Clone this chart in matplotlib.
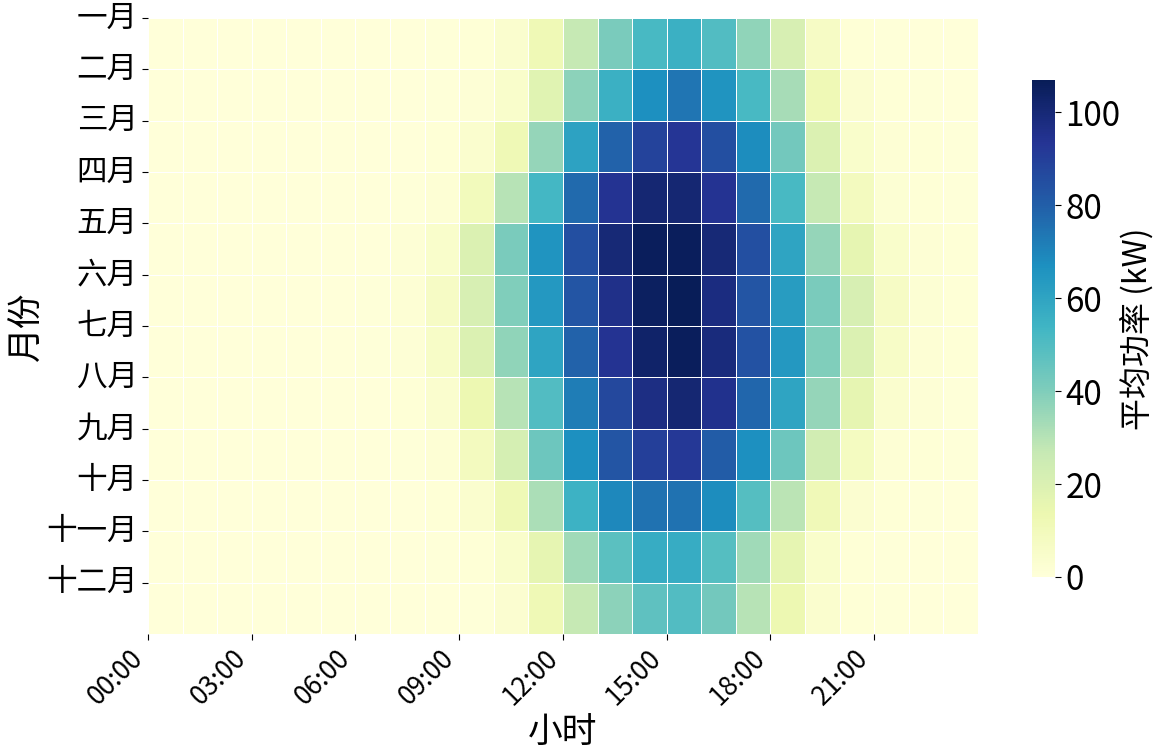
import numpy as np
import matplotlib
matplotlib.use("Agg")
import matplotlib.pyplot as plt
import seaborn as sns

plt.rcParams['font.family'] = ['Noto Sans CJK SC', 'DejaVu Sans']
plt.rcParams['axes.unicode_minus'] = False

# 月份和小时标签
months = ["一月", "二月", "三月", "四月", "五月", "六月",
          "七月", "八月", "九月", "十月", "十一月", "十二月"]
hour_ticks = [0, 3, 6, 9, 12, 15, 18, 21]
hour_labels = ["00:00", "03:00", "06:00", "09:00", "12:00", "15:00", "18:00", "21:00"]

# 每月各小时平均功率 (kW), 00:00 - 23:00
jan = [0, 0, 0, 0, 0, 0, 0, 0, 0.5, 1, 4, 12, 27, 41, 52, 56, 50, 37, 21, 7, 1, 0.5, 0, 0]
feb = [0, 0, 0, 0, 0, 0, 0, 0, 0.5, 1.5, 5, 18, 38, 56, 67, 74, 66, 52, 33, 12, 3, 1, 0.5, 0]
mar = [0, 0, 0, 0, 0, 0, 0, 0, 1, 4, 12, 36, 61, 79, 89, 93, 85, 68, 43, 20, 5, 2, 1, 0.5]
apr = [0, 0, 0, 0, 0, 0, 0, 0.5, 2, 10, 30, 53, 77, 94, 101, 101, 94, 77, 52, 27, 9, 2.5, 1, 0.5]
may = [0, 0, 0, 0, 0, 0, 0.3, 1.5, 5, 20, 41, 66, 85, 100, 106, 106, 100, 85, 60, 36, 16, 5, 2, 1]
jun = [0, 0, 0, 0, 0, 0, 0.5, 2, 7, 21, 40, 64, 83, 96, 105, 107, 98, 83, 63, 41, 21, 7, 2.5, 1]
jul = [0, 0, 0, 0, 0, 0, 0.5, 1.5, 6, 20, 37, 60, 79, 94, 103, 106, 99, 84, 64, 40, 20, 6, 2, 1]
aug = [0, 0, 0, 0, 0, 0, 0, 1, 4, 13, 30, 50, 72, 87, 97, 101, 95, 78, 60, 36, 16, 4, 1.5, 0.5]
sep = [0, 0, 0, 0, 0, 0, 0, 0.5, 2, 9, 22, 44, 67, 83, 90, 92, 81, 67, 44, 23, 8, 2, 1, 0.5]
oct_ = [0, 0, 0, 0, 0, 0, 0, 0, 1, 4, 12, 32, 55, 69, 75, 75, 68, 49, 29, 11, 3, 1, 0.5, 0]
nov = [0, 0, 0, 0, 0, 0, 0, 0, 0.5, 1, 5, 16, 34, 48, 57, 57, 49, 34, 16, 5, 1, 0.5, 0, 0]
dec = [0, 0, 0, 0, 0, 0, 0, 0, 0.3, 0.5, 3, 12, 27, 38, 47, 50, 43, 30, 13, 4, 1, 0.5, 0, 0]

data = np.array([jan, feb, mar, apr, may, jun, jul, aug, sep, oct_, nov, dec])

fig = plt.figure(figsize=(11.56, 7.56), dpi=100)
ax = fig.add_axes([0.128, 0.1614, 0.718, 0.8148])
cax = fig.add_axes([0.8927, 0.2368, 0.0199, 0.6574])

sns.heatmap(data, ax=ax, cbar_ax=cax, cmap="YlGnBu",
            linewidths=0.5, linecolor="white")

# 刻度
ax.set_xticks(hour_ticks)
ax.set_xticklabels(hour_labels, rotation=45, ha="right", fontsize=19)
ax.set_yticks(np.arange(len(months)))
ax.set_yticklabels(months, rotation=0, fontsize=22)
ax.tick_params(axis="both", length=4, width=0.8)

ax.set_xlabel("小时", fontsize=25)
ax.set_ylabel("月份", fontsize=25, labelpad=1)

# 颜色条
cax.tick_params(labelsize=24, length=4)
cax.set_ylabel("平均功率 (kW)", fontsize=23, labelpad=0)

plt.savefig("out.png", dpi=100)
